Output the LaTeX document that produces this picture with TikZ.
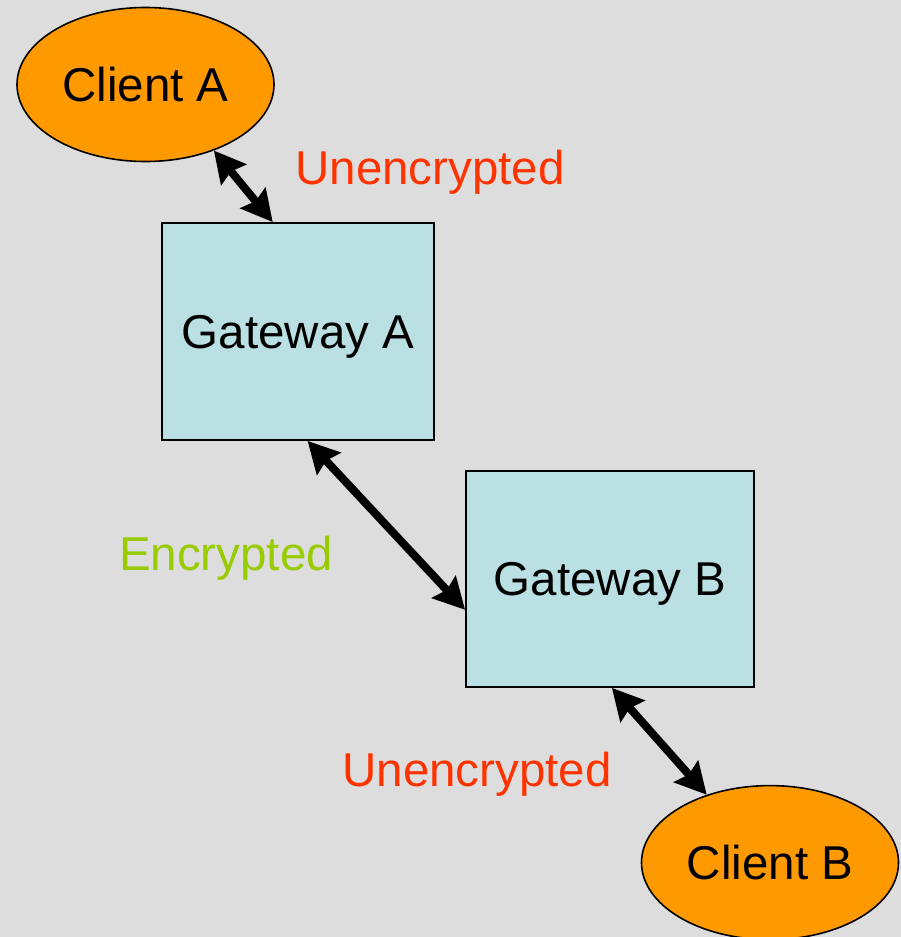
\documentclass[tikz,border=0pt]{standalone}
\usepackage{fontspec}
\setmainfont{Liberation Sans}
\usetikzlibrary{shapes.geometric,arrows.meta}
\definecolor{bgc}{HTML}{DDDDDD}
\definecolor{clientc}{HTML}{FF9900}
\definecolor{gatec}{HTML}{BBE0E3}
\definecolor{redc}{HTML}{FF3300}
\definecolor{greenc}{HTML}{99CC00}
\tikzset{
  client/.style={ellipse, draw=black, line width=1.6pt, fill=clientc, minimum width=257pt, minimum height=154pt, inner sep=0pt, font=\fontsize{47.5}{57}\selectfont},
  gateway/.style={rectangle, draw=black, line width=1.8pt, fill=gatec, inner sep=0pt, text depth=0pt, font=\fontsize{47.5}{57}\selectfont},
  lbl/.style={anchor=base, inner sep=0pt, font=\fontsize{47.5}{57}\selectfont},
  link/.style={line width=8pt, {Stealth[length=31pt,width=32pt,inset=4pt]}-{Stealth[length=31pt,width=32pt,inset=4pt]}}
}
\begin{document}
\begin{tikzpicture}[x=1pt,y=-1pt]
\fill[bgc] (0,0) rectangle (901,937);
\useasboundingbox (0,0) rectangle (901,937);
\node[client] (ca) at (145.5,84.5) {Client A};
\node[client] (cb) at (770,862.6) {Client B};
\node[gateway, minimum width=272pt, minimum height=217pt] (ga) at (298,331.5) {Gateway A};
\node[gateway, minimum width=288pt, minimum height=216pt] (gb) at (610,579) {Gateway B};
\node[lbl, text=redc] (u1) at (430,184) {Unencrypted};
\node[lbl, text=greenc] (en) at (226,570.7) {Encrypted};
\node[lbl, text=redc] (u2) at (477,786) {Unencrypted};
\draw[link] (ca.-44) -- (ga.103);
\draw[link] (ga.-85.4) -- (gb.-168.7);
\draw[link] (gb.-89.6) -- (cb.133.7);
\end{tikzpicture}
\end{document}
